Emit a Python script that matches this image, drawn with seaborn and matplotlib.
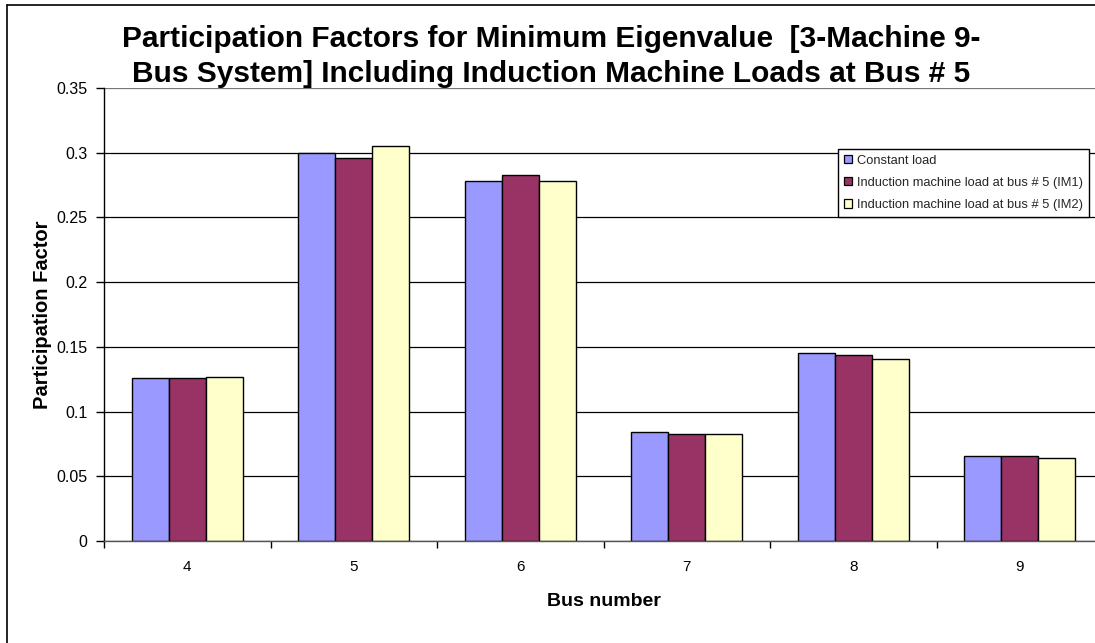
import matplotlib
matplotlib.use("Agg")
import matplotlib.pyplot as plt
import matplotlib.patches as mpatches
from matplotlib.lines import Line2D
from matplotlib.ticker import FixedLocator, FuncFormatter
import numpy as np
import pandas as pd
import seaborn as sns

# Bus numbers and participation factors for each loading case
buses = ["4", "5", "6", "7", "8", "9"]
constant_load = [0.126, 0.300, 0.278, 0.084, 0.145, 0.066]
im1_load = [0.126, 0.296, 0.283, 0.083, 0.144, 0.066]
im2_load = [0.127, 0.305, 0.278, 0.083, 0.141, 0.064]

series_names = [
    "Constant load",
    "Induction machine load at bus # 5 (IM1)",
    "Induction machine load at bus # 5 (IM2)",
]
series_colors = ["#9999FF", "#993366", "#FFFFCC"]

y_ticks = [0, 0.05, 0.1, 0.15, 0.2, 0.25, 0.3, 0.35]

df = pd.DataFrame({
    "Bus": buses * 3,
    "Case": [series_names[0]] * 6 + [series_names[1]] * 6 + [series_names[2]] * 6,
    "Value": constant_load + im1_load + im2_load,
})

sns.set_theme(style="white")
plt.rcParams["font.family"] = ["Liberation Sans", "DejaVu Sans"]

W, H = 1095, 643
fig = plt.figure(figsize=(W / 100, H / 100), dpi=100)
fig.patch.set_facecolor("white")

# plot area in pixel units
left, right, top, bottom = 104, 1103, 88, 541
ax = fig.add_axes([left / W, 1 - bottom / H, (right - left) / W, (bottom - top) / H])

sns.barplot(
    data=df, x="Bus", y="Value", hue="Case", order=buses,
    hue_order=series_names, palette=series_colors,
    width=0.667, gap=0, edgecolor="black", linewidth=1.0,
    saturation=1, errorbar=None, ax=ax, legend=False,
)

ax.set_xlim(-0.5, len(buses) - 0.5)
ax.set_ylim(0, 0.35)
ax.yaxis.set_major_locator(FixedLocator(y_ticks))
ax.yaxis.set_major_formatter(FuncFormatter(lambda v, p: f"{v:g}"))
ax.set_axisbelow(True)
ax.yaxis.grid(True, color="black", linewidth=0.9)
ax.xaxis.grid(False)
# the top gridline is drawn lighter
ax.get_ygridlines()[-1].set_color("#777777")

for s in ["top", "right"]:
    ax.spines[s].set_visible(False)
ax.spines["left"].set_color("black")
ax.spines["left"].set_linewidth(1.0)
ax.spines["bottom"].set_color("#555555")
ax.spines["bottom"].set_linewidth(1.0)

# category separators as outward ticks on the x axis
ax.xaxis.set_minor_locator(FixedLocator(np.arange(-0.5, len(buses), 1.0)))
ax.tick_params(axis="x", which="major", length=0, pad=14, labelsize=11, colors="black")
ax.tick_params(axis="x", which="minor", length=5, width=1, color="black", direction="out", bottom=True)
ax.tick_params(axis="y", which="major", length=6, width=1, color="black", direction="out",
               left=True, pad=6, labelsize=11.5, labelcolor="black")

ax.set_xlabel("Bus number", fontsize=14, fontweight="bold", labelpad=13, color="black")
ax.set_ylabel("Participation Factor", fontsize=14.5, fontweight="bold", labelpad=3, color="black")

fig.text(551 / W, 1 - 56.5 / H,
         "Participation Factors for Minimum Eigenvalue  [3-Machine 9-\nBus System] Including Induction Machine Loads at Bus # 5",
         ha="center", va="center", fontsize=21.5, fontweight="bold", linespacing=1.3, color="black")

handles = [mpatches.Patch(facecolor=c, edgecolor="black", linewidth=0.9) for c in series_colors]
leg = ax.legend(handles, series_names, loc="upper right",
                bbox_to_anchor=(1089 / W, 1 - 149 / H), bbox_transform=fig.transFigure,
                fontsize=9.3, frameon=True, fancybox=False, framealpha=1,
                edgecolor="black", handlelength=0.6, handleheight=0.6,
                handletextpad=0.4, labelspacing=0.78, borderpad=0.45, borderaxespad=0)
leg.get_frame().set_linewidth(1.0)

# outer chart border (left and top edges lie inside the image)
for xs, ys in [((7 / W, 7 / W), (0, 1 - 5 / H)), ((7 / W, 1), (1 - 5 / H, 1 - 5 / H))]:
    fig.add_artist(Line2D(xs, ys, transform=fig.transFigure, color="black", linewidth=1.2))

fig.savefig("out.png", dpi=100, facecolor="white")
